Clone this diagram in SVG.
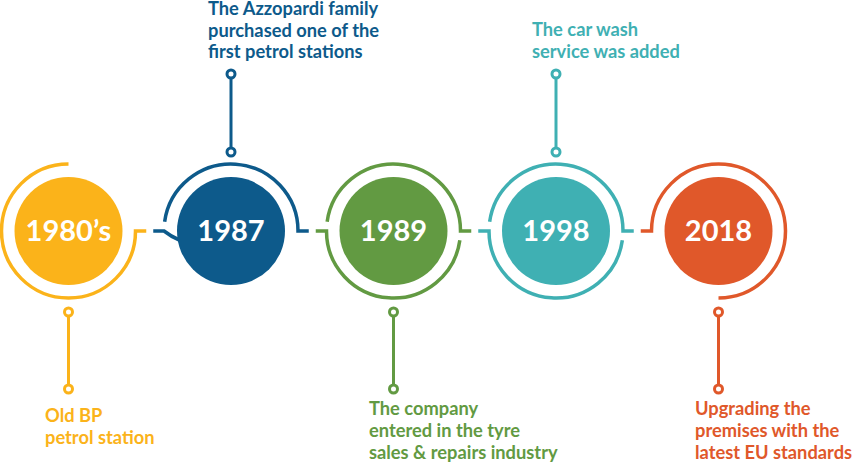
<svg xmlns="http://www.w3.org/2000/svg" width="855" height="464" viewBox="0 0 855 464">
<style>
.ring{fill:none;stroke-width:3.5}
.pin{fill:none;stroke-width:3}
.dot{fill:#fff;stroke-width:3}
.yr{font-family:Lato,"Open Sans",sans-serif;font-weight:700;font-size:29px;fill:#fff;text-anchor:middle}
.lbl{font-family:Lato,"Open Sans",sans-serif;font-weight:700;font-size:18.3px}
.c1{stroke:#FBB31A}.f1{fill:#FBB31A}
.c2{stroke:#0D5A8B}.f2{fill:#0D5A8B}
.c3{stroke:#629A42}.f3{fill:#629A42}
.c4{stroke:#3FB0B3}.f4{fill:#3FB0B3}
.c5{stroke:#E0582A}.f5{fill:#E0582A}
</style>
<g id="connectors">
<path class="ring c1" d="M68.5 164 A67 67 0 1 0 135.5 231 H146.25"/>
<path class="ring c2" d="M153.25 231 H164 A67 67 0 0 0 230.35 240.32"/>
<path class="ring c2" d="M164.65 221.68 A67 67 0 0 1 298 231 H308.75"/>
<path class="ring c3" d="M315.75 231 H326.5 A67 67 0 0 0 459.85 240.32"/>
<path class="ring c3" d="M327.15 221.68 A67 67 0 0 1 460.5 231 H471.25"/>
<path class="ring c4" d="M478.25 231 H489 A67 67 0 0 0 622.35 240.32"/>
<path class="ring c4" d="M489.65 221.68 A67 67 0 0 1 623 231 H633.75"/>
<path class="ring c5" d="M640.75 231 H651.5 A67 67 0 1 1 718.5 298"/>
</g>
<g id="n1980">
<circle class="f1" cx="68.5" cy="231" r="54"/>
<text class="yr" x="68.5" y="241">1980’s</text>
<line class="pin c1" x1="68.5" y1="312" x2="68.5" y2="389"/>
<circle class="dot c1" cx="68.5" cy="312" r="4"/>
<circle class="dot c1" cx="68.5" cy="389" r="4"/>
<text class="lbl f1" x="45" y="422">Old BP</text>
<text class="lbl f1" x="45" y="444">petrol station</text>
</g>
<g id="n1987">
<circle class="f2" cx="231" cy="231" r="54"/>
<text class="yr" x="231" y="241">1987</text>
<line class="pin c2" x1="231" y1="74" x2="231" y2="152"/>
<circle class="dot c2" cx="231" cy="74" r="4"/>
<circle class="dot c2" cx="231" cy="152" r="4"/>
<text class="lbl f2" x="208" y="15">The Azzopardi family</text>
<text class="lbl f2" x="208" y="36.5">purchased one of the</text>
<text class="lbl f2" x="208" y="58">first petrol stations</text>
</g>
<g id="n1989">
<circle class="f3" cx="393.5" cy="231" r="54"/>
<text class="yr" x="393.5" y="241">1989</text>
<line class="pin c3" x1="393.5" y1="312" x2="393.5" y2="389"/>
<circle class="dot c3" cx="393.5" cy="312" r="4"/>
<circle class="dot c3" cx="393.5" cy="389" r="4"/>
<text class="lbl f3" x="369" y="415">The company</text>
<text class="lbl f3" x="369" y="437">entered in the tyre</text>
<text class="lbl f3" x="369" y="459">sales &amp; repairs industry</text>
</g>
<g id="n1998">
<circle class="f4" cx="556" cy="231" r="54"/>
<text class="yr" x="556" y="241">1998</text>
<line class="pin c4" x1="556" y1="74" x2="556" y2="152"/>
<circle class="dot c4" cx="556" cy="74" r="4"/>
<circle class="dot c4" cx="556" cy="152" r="4"/>
<text class="lbl f4" x="532" y="36">The car wash</text>
<text class="lbl f4" x="532" y="58">service was added</text>
</g>
<g id="n2018">
<circle class="f5" cx="718.5" cy="231" r="54"/>
<text class="yr" x="718.5" y="241">2018</text>
<line class="pin c5" x1="718.5" y1="312" x2="718.5" y2="389"/>
<circle class="dot c5" cx="718.5" cy="312" r="4"/>
<circle class="dot c5" cx="718.5" cy="389" r="4"/>
<text class="lbl f5" x="695" y="415">Upgrading the</text>
<text class="lbl f5" x="695" y="437">premises with the</text>
<text class="lbl f5" x="695" y="459">latest EU standards</text>
</g>
</svg>
